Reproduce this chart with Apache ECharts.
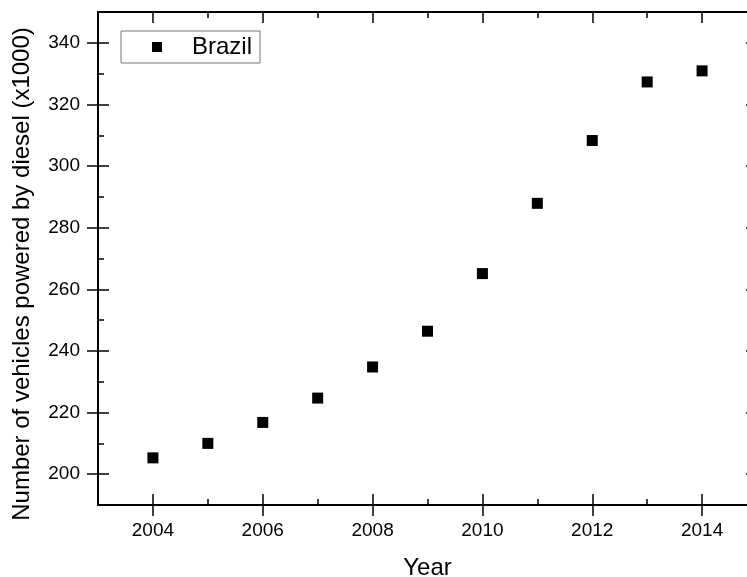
<!DOCTYPE html>
<html>
<head>
<meta charset="utf-8">
<script src="https://cdn.jsdelivr.net/npm/echarts@6/dist/echarts.min.js"></script>
<style>
html,body{margin:0;padding:0;background:#fff;}
#chart{width:747px;height:577px;}
</style>
</head>
<body>
<div id="chart"></div>
<script>
const years = [2004, 2005, 2006, 2007, 2008, 2009, 2010, 2011, 2012, 2013, 2014];
const brazil = [205.3, 210.0, 216.8, 224.7, 234.8, 246.4, 265.1, 287.9, 308.3, 327.3, 330.9];
const xMajorTicks = [2004, 2006, 2008, 2010, 2012, 2014];
const xMinorTicks = [2005, 2007, 2009, 2011, 2013];
const yMajorTicks = [200, 220, 240, 260, 280, 300, 320, 340];
const yMinorTicks = [210, 230, 250, 270, 290, 310, 330];
const seriesName = 'Brazil';
const xTitle = 'Year';
const yTitle = 'Number of vehicles powered by diesel (x1000)';

const FONT = '"Liberation Sans", Arial, sans-serif';
const X_MIN = 2003, X_MAX = 2015, Y_MIN = 190, Y_MAX = 350;

function xAx(position, ticks, inside, len, extra) {
  return Object.assign({
    type: 'value', position: position, min: X_MIN, max: X_MAX,
    splitLine: {show: false},
    axisLine: {show: false},
    axisLabel: {show: false},
    axisTick: {show: true, inside: inside, length: len, customValues: ticks,
      lineStyle: {color: '#000', width: 1.5}}
  }, extra || {});
}
function yAx(position, ticks, inside, len, extra) {
  return Object.assign({
    type: 'value', position: position, min: Y_MIN, max: Y_MAX,
    splitLine: {show: false},
    axisLine: {show: false},
    axisLabel: {show: false},
    axisTick: {show: true, inside: inside, length: len, customValues: ticks,
      lineStyle: {color: '#000', width: 1.5}}
  }, extra || {});
}

const chart = echarts.init(document.getElementById('chart'), null, {renderer: 'canvas'});
chart.setOption({
  animation: false,
  backgroundColor: '#fff',
  grid: {left: 98, top: 12, right: -10, bottom: 72, containLabel: false, outerBoundsMode: 'none'},
  legend: {
    left: 121, top: 31,
    data: [seriesName],
    icon: 'rect', itemWidth: 10, itemHeight: 10,
    borderColor: '#777', borderWidth: 1, borderRadius: 0,
    padding: [4, 8, 4, 31],
    textStyle: {fontFamily: FONT, fontSize: 24, color: '#000', lineHeight: 24, padding: [0, 0, 0, 25]}
  },
  xAxis: [
    xAx('bottom', xMajorTicks, false, 11, {
      axisLine: {show: true, onZero: false, lineStyle: {color: '#000', width: 2}},
      axisLabel: {show: true, customValues: xMajorTicks, margin: 16,
        formatter: v => String(v),
        fontFamily: FONT, fontSize: 19, color: '#000'},
      name: xTitle, nameLocation: 'middle', nameGap: 51,
      nameTextStyle: {fontFamily: FONT, fontSize: 24, color: '#000'}
    }),
    xAx('bottom', xMajorTicks, true, 11),
    xAx('bottom', xMinorTicks, true, 6),
    xAx('top', xMajorTicks, true, 11, {
      axisLine: {show: true, onZero: false, lineStyle: {color: '#000', width: 2}}
    }),
    xAx('top', xMinorTicks, true, 6)
  ],
  yAxis: [
    yAx('left', yMajorTicks, false, 11, {
      axisLine: {show: true, onZero: false, lineStyle: {color: '#000', width: 2}},
      axisLabel: {show: true, customValues: yMajorTicks, margin: 18,
        formatter: v => String(v),
        fontFamily: FONT, fontSize: 19, color: '#000'}
    }),
    yAx('left', yMajorTicks, true, 11),
    yAx('left', yMinorTicks, true, 6),
    yAx('right', yMajorTicks, true, 11, {
      axisLine: {show: true, onZero: false, lineStyle: {color: '#000', width: 2}}
    }),
    yAx('right', yMinorTicks, true, 6)
  ],
  graphic: [{
    type: 'text', x: 22, y: 274, rotation: Math.PI / 2,
    style: {text: yTitle, font: '24px ' + FONT, fill: '#000',
      textAlign: 'center', textVerticalAlign: 'middle'}
  }],
  series: [{
    name: seriesName,
    type: 'scatter',
    xAxisIndex: 0, yAxisIndex: 0,
    symbol: 'rect', symbolSize: 11,
    itemStyle: {color: '#000', opacity: 1},
    data: years.map((y, i) => [y, brazil[i]])
  }]
});
</script>
</body>
</html>
